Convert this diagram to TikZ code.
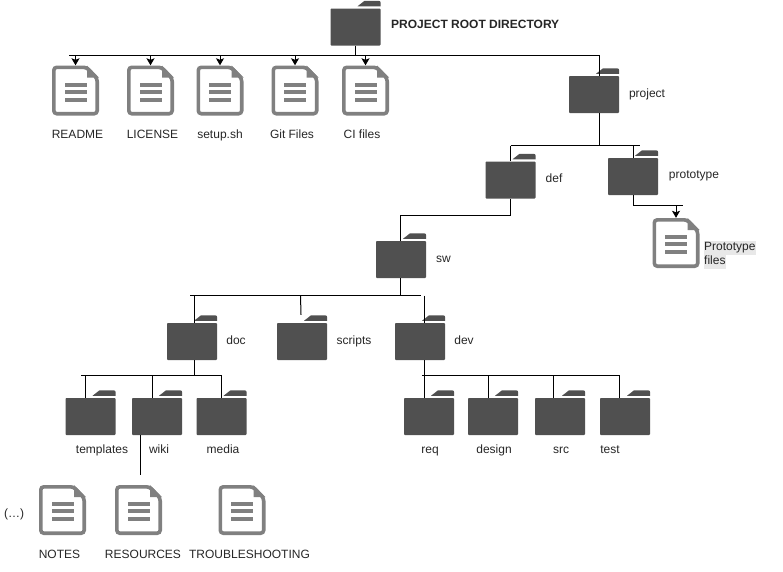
\documentclass[tikz,border=0pt]{standalone}
\usepackage{fontspec}
\setmainfont{Liberation Sans}
\usetikzlibrary{arrows.meta}
\definecolor{foldergray}{HTML}{505050}
\definecolor{filegray}{HTML}{808080}
\definecolor{highlightgray}{HTML}{E8E8E8}

\begin{document}
\begin{tikzpicture}[
            x=1pt, y=-1pt,
            every node/.style={inner sep=0pt, text height=9pt, text depth=3pt, font=\fontsize{12}{14}\selectfont, text=black!85},
            folder/.style={fill=foldergray, minimum width=50pt, minimum height=37pt, rounded corners=0.8pt,
                append after command={\pgfextra{
                    \fill[foldergray] ([xshift=2pt, yshift=2pt]\tikzlastnode.north) -- ([xshift=9pt, yshift=7.5pt]\tikzlastnode.north)
                        -- ([xshift=-2pt, yshift=7.5pt]\tikzlastnode.north east) to[out=0, in=90] ([yshift=5.5pt]\tikzlastnode.north east)
                        -- ([yshift=2pt]\tikzlastnode.north east) -- cycle;
                }}},
            file/.style={minimum width=47pt, minimum height=50pt,
                append after command={\pgfextra{
                    \begin{scope}[shift={(\tikzlastnode.center)}]
                        \draw[filegray, line width=3.6pt, rounded corners=3pt] (-21.7,-23.2) -- (11,-23.2) -- (21.7,-12) -- (21.7,23.2) -- (-21.7,23.2) -- cycle;
                        \fill[filegray] (11.5,-25) -- (23.5,-13) -- (11.5,-13) -- cycle;
                        \fill[filegray] (-11,-8) rectangle (11,-4);
                        \fill[filegray] (-11,-1) rectangle (11,3);
                        \fill[filegray] (-11,7) rectangle (11,11);
                    \end{scope}
                }}},
            edge line/.style={draw=black, line width=1pt},
            to file/.style={edge line, -{Stealth[length=7pt, width=8pt, inset=1.5pt]}},
            ]
            % folders
            \node[folder] (root) at (355.5, 27) {};
            \node[folder] (project) at (594, 94.5) {};
            \node[folder] (def) at (510.5, 180) {};
            \node[folder] (prototype) at (633, 176.5) {};
            \node[folder] (sw) at (401, 259.5) {};
            \node[folder] (doc) at (192, 341.5) {};
            \node[folder] (scripts) at (302, 341.5) {};
            \node[folder] (dev) at (420, 341.5) {};
            \node[folder] (templates) at (90.5, 416.5) {};
            \node[folder] (wiki) at (157, 416.5) {};
            \node[folder] (media) at (221.5, 416.5) {};
            \node[folder] (req) at (429, 416.5) {};
            \node[folder] (design) at (493, 416.5) {};
            \node[folder] (src) at (560, 416.5) {};
            \node[folder] (test) at (625, 416.5) {};
            % files
            \node[file] (readme) at (75.5, 90.5) {};
            \node[file] (license) at (150.5, 90.5) {};
            \node[file] (setup) at (220, 90.5) {};
            \node[file] (gitfiles) at (295, 90.5) {};
            \node[file] (cifiles) at (365.5, 90.5) {};
            \node[file] (protofiles) at (676, 243) {};
            \node[file] (notes) at (62.5, 510) {};
            \node[file] (resources) at (138.5, 510) {};
            \node[file] (troubleshooting) at (242, 510) {};
            % labels
            \node[anchor=west, font=\fontsize{12}{14}\selectfont\bfseries] (rootlabel) at (391, 25.5) {PROJECT ROOT DIRECTORY};
            \node (readmelabel) at (77.5, 135) {README};
            \node (licenselabel) at (152.5, 135) {LICENSE};
            \node (setuplabel) at (220, 135) {setup.sh};
            \node (gitlabel) at (292, 135) {Git Files};
            \node (cilabel) at (362, 135) {CI files};
            \node (projectlabel) at (647, 94) {project};
            \node (deflabel) at (554, 179) {def};
            \node (prototypelabel) at (694, 175.5) {prototype};
            \node (swlabel) at (443.5, 259) {sw};
            \node (doclabel) at (236, 341) {doc};
            \node (scriptslabel) at (354, 341) {scripts};
            \node (devlabel) at (464, 341) {dev};
            \node (templateslabel) at (102, 450.5) {templates};
            \node (wikilabel) at (159, 450.5) {wiki};
            \node (medialabel) at (223, 450.5) {media};
            \node (reqlabel) at (430, 450.5) {req};
            \node (designlabel) at (494, 450.5) {design};
            \node (srclabel) at (561, 450.5) {src};
            \node (testlabel) at (610, 450.5) {test};
            \node (noteslabel) at (59.5, 555) {NOTES};
            \node (resourceslabel) at (143, 555) {RESOURCES};
            \node (troublelabel) at (249.5, 555) {TROUBLESHOOTING};
            \node (morelabel) at (14, 514.5) {(…)};
            \node[anchor=west, align=left, text height=, text depth=] (protofileslabel) at (704, 254.5)
                {\fboxsep=0pt\colorbox{highlightgray}{\strut Prototype}\\\fboxsep=0pt\colorbox{highlightgray}{\strut files}};
            % connector points
            \coordinate (rootbusleft) at (69, 55.5);
            \coordinate (rootbusright) at (599.5, 55.5);
            \coordinate (rootbus) at (355.5, 55.5);
            \coordinate (projectbus) at (599.5, 145.5);
            \coordinate (projectbusleft) at (510.5, 145.5);
            \coordinate (projectbusright) at (640, 145.5);
            \coordinate (defbend) at (510.5, 215.5);
            \coordinate (swtop) at (400.5, 215.5);
            \coordinate (protobend) at (633.5, 205.5);
            \coordinate (protobusright) at (683, 205.5);
            \coordinate (swbus) at (400.5, 295.5);
            \coordinate (swbusleft) at (190, 295.5);
            \coordinate (swbusright) at (420.5, 295.5);
            \coordinate (devtop) at (424.5, 295.5);
            \coordinate (docbus) at (194.5, 375.5);
            \coordinate (docbusleft) at (81, 375.5);
            \coordinate (docbusright) at (221.5, 375.5);
            \coordinate (devbus) at (424.5, 375.5);
            \coordinate (devbusleft) at (422, 375.5);
            \coordinate (devbusright) at (620, 375.5);
            \coordinate (wikiend) at (140.5, 475);
            % connectors
            \draw[edge line] (root.south) -- (rootbus);
            \draw[edge line] (rootbusleft) -- (rootbusright) -- ([xshift=5.5pt]project.north);
            \draw[to file] (rootbus -| readme.north) -- (readme.north);
            \draw[to file] (rootbus -| license.north) -- (license.north);
            \draw[to file] (rootbus -| setup.north) -- (setup.north);
            \draw[to file] (rootbus -| gitfiles.north) -- (gitfiles.north);
            \draw[to file] (rootbus -| cifiles.north) -- (cifiles.north);
            \draw[edge line] ([xshift=5.5pt]project.south) -- (projectbus);
            \draw[edge line] (projectbusleft) -- (projectbusright);
            \draw[edge line] (projectbusleft) -- (def.north);
            \draw[edge line] (projectbus -| prototype.north) ++(0.5,0) -- ([xshift=0.5pt]prototype.north);
            \draw[edge line] (def.south) -- (defbend) -- (swtop) -- (sw.north -| swtop);
            \draw[edge line] ([xshift=0.5pt]prototype.south) -- (protobend) -- (protobusright);
            \draw[to file] (protobend -| protofiles.north) -- (protofiles.north);
            \draw[edge line] (sw.south -| swbus) -- (swbus);
            \draw[edge line] (swbusleft) -- (swbusright);
            \draw[edge line] (swbus -| docbus) -- (doc.north -| docbus);
            \draw[edge line] ([xshift=-1.5pt]swbus -| scripts.north) -- ([shift={(-1pt,8pt)}]scripts.north);
            \draw[edge line] (devtop) -- (dev.north -| devtop);
            \draw[edge line] (doc.south -| docbus) -- (docbus);
            \draw[edge line] (docbusleft) -- (docbusright);
            \draw[edge line] (docbus -| templates.north) ++(-5,0) -- ([xshift=-5pt]templates.north);
            \draw[edge line] (docbus -| wiki.north) ++(-4.5,0) -- ([xshift=-4.5pt]wiki.north);
            \draw[edge line] (docbusright) -- (media.north);
            \draw[edge line] (dev.south -| devbus) -- (devbus) -- (req.north -| devbus);
            \draw[edge line] (devbusleft) -- (devbusright);
            \draw[edge line] (devbus -| design.north) ++(-4.5,0) -- ([xshift=-4.5pt]design.north);
            \draw[edge line] (devbus -| src.north) ++(-7,0) -- ([xshift=-7pt]src.north);
            \draw[edge line] (devbus -| test.north) ++(-5.5,0) -- ([xshift=-5.5pt]test.north);
            \draw[edge line] (wiki.south -| wikiend) -- (wikiend);
            \useasboundingbox (0, 0) rectangle (783, 571);
        \end{tikzpicture}
\end{document}
